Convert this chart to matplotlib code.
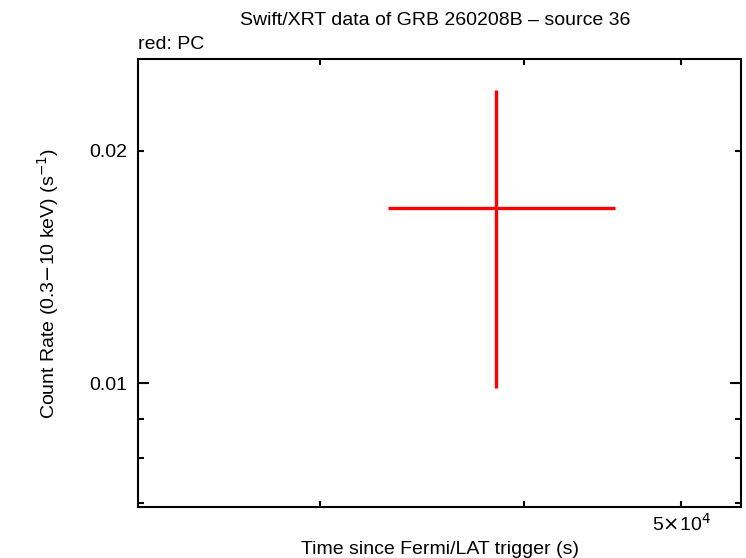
import numpy as np
import matplotlib
matplotlib.use("Agg")
import matplotlib.pyplot as plt
from matplotlib.ticker import FixedLocator, NullFormatter

plt.rcParams['font.family'] = ['Liberation Sans', 'DejaVu Sans']

# PC data point (time, rate, errors)
t = np.array([38450.0])
t_lo = np.array([38450.0 - 33030.0])
t_hi = np.array([45500.0 - 38450.0])
rate = np.array([0.01688])
rate_lo = np.array([0.01688 - 0.00988])
rate_hi = np.array([0.02397 - 0.01688])

x_labels = {5e4: r'5$\times$10$^{4}$'}
y_labels = {0.01: '0.01', 0.02: '0.02'}

fig = plt.figure(figsize=(7.46, 5.58), dpi=100)
ax = fig.add_axes([0.185, 0.0914, 0.8083, 0.8029])

ax.errorbar(t, rate, xerr=[t_lo, t_hi], yerr=[rate_lo, rate_hi],
            fmt='none', ecolor='#ff0000', elinewidth=2.4, capsize=0)

ax.set_xscale('log')
ax.set_yscale('log')
ax.set_xlim(23170, 54420)
ax.set_ylim(0.00692, 0.0263)

ax.xaxis.set_major_locator(FixedLocator([5e4]))
ax.xaxis.set_minor_locator(FixedLocator([3e4, 4e4]))
ax.xaxis.set_major_formatter(plt.FuncFormatter(lambda v, p: x_labels.get(v, '')))
ax.xaxis.set_minor_formatter(NullFormatter())

ax.yaxis.set_major_locator(FixedLocator([0.01, 0.02]))
ax.yaxis.set_minor_locator(FixedLocator([0.007, 0.008, 0.009]))
ax.yaxis.set_major_formatter(plt.FuncFormatter(lambda v, p: y_labels.get(round(v, 3), '')))
ax.yaxis.set_minor_formatter(NullFormatter())

ax.tick_params(which='both', direction='in', top=True, right=True,
               width=1.5, labelsize=14, colors='black')
ax.tick_params(axis='y', which='major', length=8, pad=8)
ax.tick_params(axis='x', which='major', length=4, pad=4)
ax.tick_params(which='minor', length=4)
# 0.02 tick is short like the minor ones
ax.yaxis.get_major_ticks()[1].tick1line.set_markersize(4)
ax.yaxis.get_major_ticks()[1].tick2line.set_markersize(4)

for s in ax.spines.values():
    s.set_linewidth(1.5)

ax.set_xlabel('Time since Fermi/LAT trigger (s)', fontsize=14, labelpad=5)
ax.set_ylabel('Count Rate (0.3$-$10 keV) (s$^{-1}$)', fontsize=14, labelpad=20)
fig.text(0.583, 0.964, 'Swift/XRT data of GRB 260208B \u2013 source 36',
         ha='center', va='center', fontsize=14)
fig.text(0.185, 0.920, 'red: PC', ha='left', va='center', fontsize=14)

fig.savefig('out.png', dpi=100)
